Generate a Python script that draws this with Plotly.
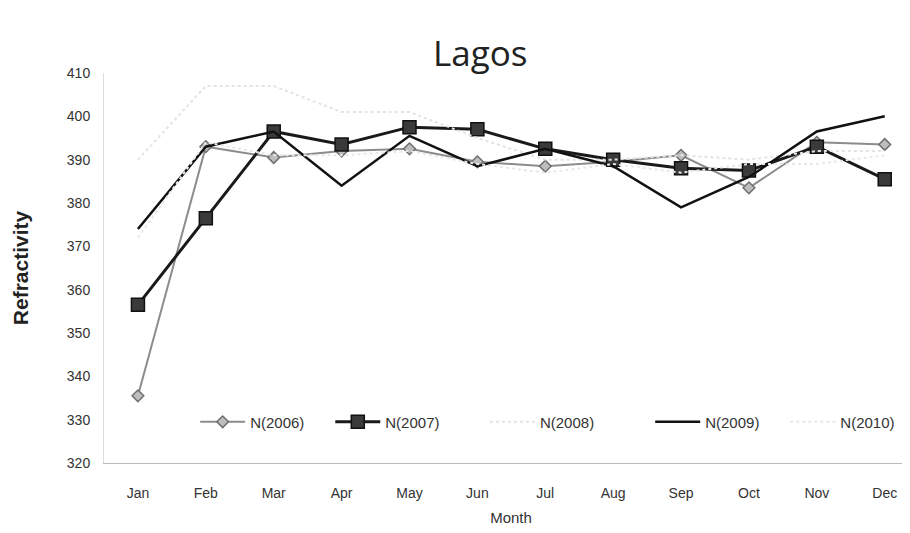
import plotly.graph_objects as go

months = ["Jan", "Feb", "Mar", "Apr", "May", "Jun", "Jul", "Aug", "Sep", "Oct", "Nov", "Dec"]
n2006 = [335.5, 393, 390.5, 392, 392.5, 389.5, 388.5, 389.5, 391, 383.5, 394, 393.5]
n2007 = [356.5, 376.5, 396.5, 393.5, 397.5, 397, 392.5, 390, 388, 387.5, 393, 385.5]
n2008 = [390, 407, 407, 401, 401, 395, 390, 390, 391, 390, 392, 392]
n2009 = [374, 393, 396.5, 384, 395.5, 388.5, 392.5, 388.5, 379, 386, 396.5, 400]
n2010 = [372, 394, 391, 391, 392, 389, 387, 389, 387, 389, 389, 391]
y_ticks = [320, 330, 340, 350, 360, 370, 380, 390, 400, 410]

fig = go.Figure()
fig.add_trace(go.Scatter(x=months, y=n2006, name="N(2006)", mode="lines+markers",
                         legend="legend",
                         line=dict(color="#8c8c8c", width=2),
                         marker=dict(symbol="diamond", size=9, color="#bdbdbd",
                                     line=dict(color="#6e6e6e", width=1.5))))
fig.add_trace(go.Scatter(x=months, y=n2007, name="N(2007)", mode="lines+markers",
                         legend="legend2",
                         line=dict(color="#1a1a1a", width=3),
                         marker=dict(symbol="square", size=13, color="#3a3a3a",
                                     line=dict(color="#111111", width=1.5))))
fig.add_trace(go.Scatter(x=months, y=n2008, name="N(2008)", mode="lines",
                         legend="legend3",
                         line=dict(color="#e3e3e3", width=2, dash="dot")))
fig.add_trace(go.Scatter(x=months, y=n2009, name="N(2009)", mode="lines",
                         legend="legend4",
                         line=dict(color="#111111", width=2.5)))
fig.add_trace(go.Scatter(x=months, y=n2010, name="N(2010)", mode="lines",
                         legend="legend5",
                         line=dict(color="#e8e8e8", width=2, dash="dot")))

legend_style = dict(orientation="h", y=0.105, xanchor="left", yanchor="middle",
                    bgcolor="rgba(0,0,0,0)", font=dict(size=15, color="#333333"),
                    itemwidth=45)

fig.update_layout(
    width=910, height=533,
    paper_bgcolor="white", plot_bgcolor="white",
    margin=dict(l=96, r=0, t=65, b=78),
    font=dict(family="Liberation Sans, Arial, sans-serif", color="#333333", size=14),
    title=dict(text="Lagos", x=0.519, xanchor="center", y=0.915, yanchor="middle",
               font=dict(size=35, color="#222222", family="Open Sans, sans-serif")),
    xaxis=dict(range=[-0.5, 11.49], showgrid=False, showline=True, automargin=False,
               linecolor="#bbbbbb", linewidth=1, ticks="", ticklabelstandoff=17,
               tickfont=dict(size=14, color="#333333"),
               title=dict(text="Month", font=dict(size=15, color="#333333"), standoff=12)),
    yaxis=dict(range=[320, 410], tickvals=y_ticks, showgrid=False, showline=True,
               automargin=False, ticklabelstandoff=10,
               linecolor="#dddddd", linewidth=1, ticks="", zeroline=False,
               tickfont=dict(size=14, color="#333333"),
               title=dict(text="<b>Refractivity</b>", font=dict(size=21, color="#222222"),
                          standoff=32)),
    legend=dict(x=0.112, **legend_style),
    legend2=dict(x=0.278, **legend_style),
    legend3=dict(x=0.468, **legend_style),
    legend4=dict(x=0.671, **legend_style),
    legend5=dict(x=0.837, **legend_style),
    showlegend=True,
)

fig.write_html("out.html")
